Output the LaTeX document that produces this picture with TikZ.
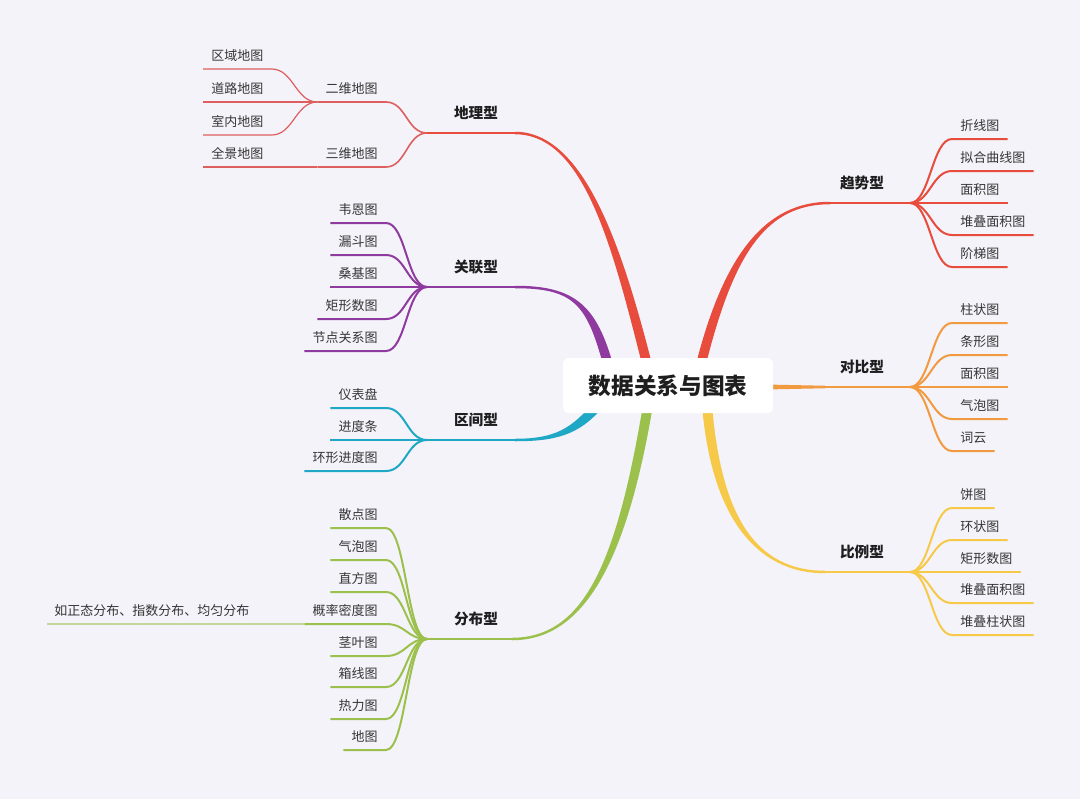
\documentclass[tikz,border=0pt]{standalone}
\usepackage{fontspec}
\setmainfont{Noto Sans CJK SC}
\definecolor{bg}{HTML}{F4F3FA}
\definecolor{txt}{HTML}{363636}
\definecolor{lbl}{HTML}{1E1E1E}
\definecolor{cred}{HTML}{E84C3D}
\definecolor{cgeo}{HTML}{DE5F5F}
\definecolor{cpur}{HTML}{8E3A9E}
\definecolor{cteal}{HTML}{1FA8C6}
\definecolor{cgreen}{HTML}{9CC04C}
\definecolor{cgreenl}{HTML}{C3D79A}
\definecolor{corange}{HTML}{F29A3F}
\definecolor{cyellow}{HTML}{F7C948}
\begin{document}
\begin{tikzpicture}[x=0.75pt,y=-0.75pt,
  item/.style={font=\fontsize{9.75}{11}\selectfont, text=txt, inner xsep=6pt, inner ysep=6pt, text height=7.5pt, text depth=0pt},
  mainlbl/.style={font=\fontsize{11}{13}\selectfont\bfseries, text=lbl, inner sep=0pt, anchor=base},
  ln/.style={line width=1.5pt},
  geoline/.style={line width=1.2pt, draw=cgeo},
  geosub/.style={line width=0.9pt, draw=cgeo}]
\fill[bg] (0,0) rectangle (1080,799);
\useasboundingbox (0,0) rectangle (1080,799);

% ---------- main tapered branches ----------
\fill[cred] (653,368) .. controls (623,250) and (585,131.75) .. (515,131.75) -- (515,134.25) .. controls (585,134.25) and (613,250) .. (643,368) -- cycle;
\fill[cpur] (614,368) .. controls (597,305) and (575,285.75) .. (515,285.75) -- (515,288.25) .. controls (575,288.25) and (587,305) .. (604,368) -- cycle;
\fill[cteal] (594.2,401.8) .. controls (571.2,428.8) and (555,438.75) .. (515,438.75) -- (515,441.25) .. controls (555,441.25) and (578.8,435.2) .. (601.8,408.2) -- cycle;
\fill[cgreen] (643,405) .. controls (617,560) and (585,637.75) .. (512,637.75) -- (512,640.25) .. controls (585,640.25) and (627,560) .. (653,405) -- cycle;
\fill[cred] (695,368) .. controls (723,255) and (765,201.75) .. (830,201.75) -- (830,204.25) .. controls (765,204.25) and (733,255) .. (705,368) -- cycle;
\fill[cyellow] (712,405) .. controls (721,515) and (755,570.75) .. (825,570.75) -- (825,573.25) .. controls (755,573.25) and (711,515) .. (702,405) -- cycle;
\fill[corange] (765,384.5) -- (825,385.75) -- (825,388.25) -- (765,389.5) -- cycle;

% ---------- branch points and curve ends ----------
\coordinate (geoB) at (427,133);  \coordinate (geoE) at (517,133);
\coordinate (relB) at (427,287);  \coordinate (relE) at (517,287);
\coordinate (intB) at (427,440);  \coordinate (intE) at (517,440);
\coordinate (disB) at (427,639);  \coordinate (disE) at (514,639);
\coordinate (treB) at (910,203);  \coordinate (treE) at (828,203);
\coordinate (cmpB) at (910,387);  \coordinate (cmpE) at (823,387);
\coordinate (proB) at (910,572);  \coordinate (proE) at (823,572);

\draw[ln,cred] (geoE) -- (geoB);
\draw[ln,cpur] (relE) -- (relB);
\draw[ln,cteal] (intE) -- (intB);
\draw[ln,cgreen] (disE) -- (disB);
\draw[ln,cred] (treE) -- (treB);
\draw[ln,corange] (cmpE) -- (cmpB);
\draw[ln,cyellow] (proE) -- (proB);

% ---------- main labels ----------
\node[mainlbl] (geo) at (476,118) {地理型};
\node[mainlbl] (rel) at (476,272) {关联型};
\node[mainlbl] (int) at (476,425) {区间型};
\node[mainlbl] (dis) at (476,624) {分布型};
\node[mainlbl] (tre) at (862,188) {趋势型};
\node[mainlbl] (cmp) at (862,372) {对比型};
\node[mainlbl] (pro) at (862,557) {比例型};

% ---------- 地理型 ----------
\node[item,anchor=south east] (g2) at (386,102) {二维地图};
\node[item,anchor=south east] (g3) at (386,167) {三维地图};
\node[item,anchor=south west] (g21) at (203,69) {区域地图};
\node[item,anchor=south west] (g22) at (203,102) {道路地图};
\node[item,anchor=south west] (g23) at (203,135) {室内地图};
\node[item,anchor=south west] (g24) at (203,167) {全景地图};
\draw[geoline] (g2.south west) -- (g2.south east) .. controls +(20,0) and +(-20,0) .. (geoB);
\draw[geoline] (g3.south west) -- (g3.south east) .. controls +(20,0) and +(-20,0) .. (geoB);
\draw[geosub] (g21.south west) -- (g21.south east) .. controls +(22,0) and +(-22,0) .. (g2.south west);
\draw[geosub] (g22.south west) -- (g2.south west);
\draw[geosub] (g23.south west) -- (g23.south east) .. controls +(22,0) and +(-22,0) .. (g2.south west);
\draw[geosub] (g24.south west) -- (g3.south west);

% ---------- 关联型 ----------
\foreach \n/\t/\y in {r1/韦恩图/223, r2/漏斗图/255, r3/桑基图/287, r4/矩形数图/319, r5/节点关系图/351}{
  \node[item,anchor=south east] (\n) at (386,\y) {\t};
  \draw[ln,cpur] (\n.south west) -- (\n.south east) .. controls +(20,0) and +(-20,0) .. (relB);
}

% ---------- 区间型 ----------
\foreach \n/\t/\y in {i1/仪表盘/408, i2/进度条/440, i3/环形进度图/471}{
  \node[item,anchor=south east] (\n) at (386,\y) {\t};
  \draw[ln,cteal] (\n.south west) -- (\n.south east) .. controls +(20,0) and +(-20,0) .. (intB);
}

% ---------- 分布型 ----------
\foreach \n/\t/\y in {d1/散点图/528, d2/气泡图/560, d3/直方图/592, d4/概率密度图/624, d5/茎叶图/656, d6/箱线图/687, d7/热力图/719, d8/地图/750}{
  \node[item,anchor=south east] (\n) at (386,\y) {\t};
  \draw[ln,cgreen] (\n.south west) -- (\n.south east) .. controls +(20,0) and +(-20,0) .. (disB);
}
\node[item,anchor=south west,inner xsep=5.25pt] (d41) at (47,624) {如正态分布、指数分布、均匀分布};
\draw[line width=0.9pt,cgreenl] (d41.south west) -- (d4.south west);

% ---------- 趋势型 ----------
\foreach \n/\t/\y in {t1/折线图/139, t2/拟合曲线图/171, t3/面积图/203, t4/堆叠面积图/235, t5/阶梯图/267}{
  \node[item,anchor=south west] (\n) at (952,\y) {\t};
  \draw[ln,cred] (treB) .. controls +(20,0) and +(-20,0) .. (\n.south west) -- (\n.south east);
}

% ---------- 对比型 ----------
\foreach \n/\t/\y in {c1/柱状图/323, c2/条形图/355, c3/面积图/387, c4/气泡图/419, c5/词云/451}{
  \node[item,anchor=south west] (\n) at (952,\y) {\t};
  \draw[ln,corange] (cmpB) .. controls +(20,0) and +(-20,0) .. (\n.south west) -- (\n.south east);
}

% ---------- 比例型 ----------
\foreach \n/\t/\y in {p1/饼图/508, p2/环状图/540, p3/矩形数图/572, p4/堆叠面积图/603, p5/堆叠柱状图/635}{
  \node[item,anchor=south west] (\n) at (952,\y) {\t};
  \draw[ln,cyellow] (proB) .. controls +(20,0) and +(-20,0) .. (\n.south west) -- (\n.south east);
}

% ---------- centre ----------
\node[fill=white, rounded corners=4.5pt, minimum width=157.5pt, minimum height=41.25pt, inner sep=0pt,
      font=\fontsize{17}{20}\selectfont\bfseries, text=lbl] (root) at (668,385.5) {数据关系与图表};
\end{tikzpicture}
\end{document}
